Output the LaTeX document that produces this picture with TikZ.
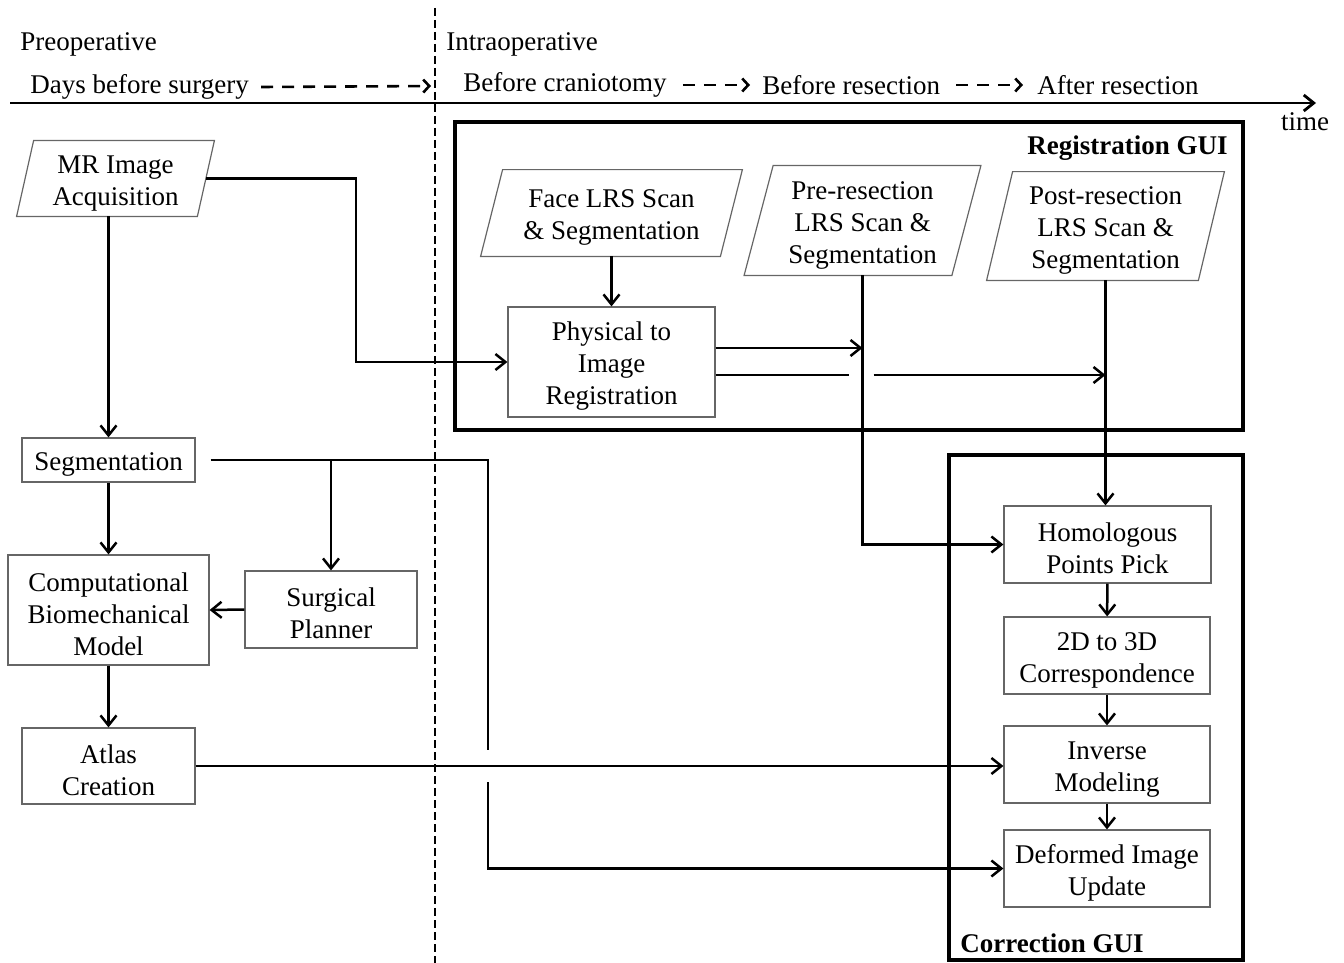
\documentclass[tikz,border=0pt]{standalone}
\usepackage{fontspec}
\setmainfont{Liberation Serif}
\usetikzlibrary{arrows.meta}
\newcommand{\topstrut}{\rule{0pt}{13.5pt}}

\begin{document}
\begin{tikzpicture}[x=0.5pt,y=-0.5pt,
  font=\fontsize{13.5}{16}\selectfont,
  >={Straight Barb[length=5pt,width=8pt]},
  box/.style={draw=black!60,line width=0.6pt,align=center,inner sep=0pt},
  databox/.style={align=center,inner sep=0pt},
  lbl/.style={inner sep=0pt},
  flow/.style={line width=1.25pt},
  gui/.style={line width=2pt},
  tdash/.style={line width=1.3pt,dash pattern=on 6pt off 4.5pt,->,>={Straight Barb[length=3pt,width=6.5pt]}}]
  \useasboundingbox (0,0) rectangle (1344,963);

  % time line
  \draw[line width=1pt,dash pattern=on 4pt off 2pt] (435,8) -- (435,963);
  \draw[line width=1.4pt,->] (10,103) -- (1316,103);
  \node[lbl] (time) at (1305,122) {time};
  \node[lbl,anchor=west] (preop) at (20,44) {Preoperative};
  \node[lbl,anchor=west] (intraop) at (446,44) {Intraoperative};
  \node[lbl,anchor=west] (days) at (30,87) {Days before surgery};
  \node[lbl,anchor=west] (cranio) at (463,85) {Before craniotomy};
  \node[lbl,anchor=west] (bres) at (762,85) {Before resection};
  \node[lbl,anchor=west] (ares) at (1037,85) {After resection};
  \coordinate (cut) at (435,86);
  \draw[tdash] ([xshift=6pt]days.east) -- ([xshift=-2pt]cut);
  \draw[tdash] ([xshift=8pt]cranio.east) -- ([xshift=-6pt]bres.west);
  \draw[tdash] ([xshift=8pt]bres.east) -- ([xshift=-7pt]ares.west);

  % GUI frames
  \draw[gui] (455,122) rectangle (1243,430);
  \node[lbl,anchor=east,font=\bfseries\fontsize{13.5}{16}\selectfont] (reggui) at (1228,148) {Registration GUI};
  \draw[gui] (949,455) rectangle (1243,960);
  \node[lbl,anchor=west,font=\bfseries\fontsize{13.5}{16}\selectfont] (corgui) at (960,943) {Correction GUI};

  % preoperative
  \node[databox,minimum width=90pt,minimum height=37.5pt] (mr) at (115.5,178.5) {\topstrut MR Image\\Acquisition};
  \node[box,minimum width=86.5pt,minimum height=22pt] (seg) at (108.5,460) {\topstrut Segmentation};
  \node[box,minimum width=100.5pt,minimum height=55pt] (model) at (108.5,610) {\topstrut Computational\\Biomechanical\\Model};
  \node[box,minimum width=86pt,minimum height=38.5pt] (planner) at (331,609.5) {\topstrut Surgical\\Planner};
  \node[box,minimum width=86.5pt,minimum height=38pt] (atlas) at (108.5,766) {\topstrut Atlas\\Creation};

  % intraoperative
  \node[databox,minimum width=119.5pt,minimum height=43pt] (face) at (611.5,213) {\topstrut Face LRS Scan\\\& Segmentation};
  \node[databox,minimum width=103.5pt,minimum height=54.5pt] (pre) at (862.5,220.5) {\topstrut Pre-resection\\LRS Scan \&\\Segmentation};
  \node[databox,minimum width=105.5pt,minimum height=54pt] (post) at (1105.5,226) {\topstrut Post-resection\\LRS Scan \&\\Segmentation};
  \node[box,minimum width=103.5pt,minimum height=55pt] (phys) at (611.5,362) {\topstrut Physical to\\Image\\Registration};
  \node[box,minimum width=103.5pt,minimum height=38.5pt] (homol) at (1107.5,544.5) {\topstrut Homologous\\Points Pick};
  \node[box,minimum width=103pt,minimum height=38.5pt] (corr) at (1107,655.5) {\topstrut 2D to 3D\\Correspondence};
  \node[box,minimum width=103pt,minimum height=38.5pt] (inverse) at (1107,764.5) {\topstrut Inverse\\Modeling};
  \node[box,minimum width=103pt,minimum height=38.5pt] (update) at (1107,868.5) {\topstrut Deformed Image\\Update};

  \foreach \n/\s in {mr/4.25pt,face/5.5pt,pre/7.25pt,post/6.5pt}
    \draw[draw=black!60,line width=0.6pt] ([xshift=\s]\n.north west) -- ([xshift=\s]\n.north east)
      -- ([xshift=-\s]\n.south east) -- ([xshift=-\s]\n.south west) -- cycle;

  % connectors
  \draw[flow,->] (mr.south -| seg.north) -- (seg.north);
  \draw[flow,->] (mr.east) -- ++(150,0) |- (phys.west);
  \draw[flow,->] (face.south) -- (phys.north);
  \draw[flow,->] ([yshift=7pt]phys.east) -- ([yshift=7pt]phys.east -| pre.south);
  \coordinate (hop) at ([yshift=-6.5pt]phys.east -| pre.south);
  \draw[flow] ([yshift=-6.5pt]phys.east) -- ([xshift=-7pt]hop);
  \draw[flow,->] ([xshift=5.5pt]hop) -- (hop -| post.south);
  \draw[flow,->] (pre.south) |- (homol.west);
  \draw[flow,->] (post.south) -- (post.south |- homol.north);
  \draw[flow,->] (homol) -- (corr);
  \draw[flow,->] (corr) -- (inverse);
  \draw[flow,->] (inverse) -- (update);

  \coordinate (jog) at (488,460);
  \draw[flow] ([xshift=7.5pt]seg.east) -- (jog) -- ([yshift=8pt]jog |- atlas.east);
  \draw[flow,->] ([yshift=-8pt]jog |- atlas.east) |- (update.west);
  \draw[flow,->] (jog -| planner.north) -- (planner.north);
  \draw[flow,->] (planner.west) -- (model.east);
  \draw[flow,->] (seg) -- (model);
  \draw[flow,->] (model) -- (atlas);
  \draw[flow,->] (atlas.east) -- (atlas.east -| inverse.west);
\end{tikzpicture}
\end{document}
